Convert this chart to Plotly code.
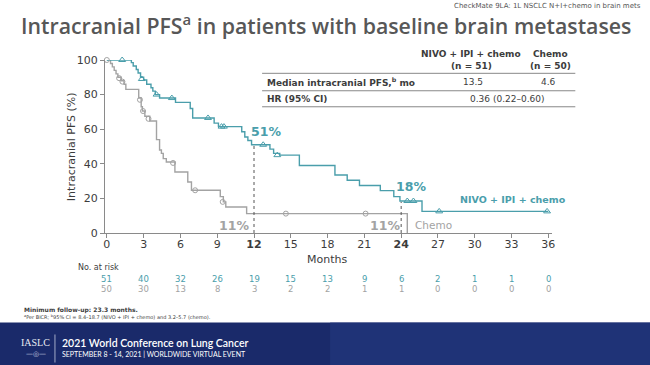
import plotly.graph_objects as go

# ---------------- data ----------------
nivo_t = [0, 2.0, 2.15, 2.4, 2.55, 2.75, 3.0, 3.25, 3.6, 3.75, 3.95, 4.3, 5.6, 6.8, 7.0,
          8.75, 9.1, 11.0, 11.25, 11.5, 11.8, 13.3, 13.6, 14.1, 15.7, 18.6, 19.6, 20.6,
          22.3, 23.4, 23.9, 25.7, 36.0]
nivo_s = [100, 98.5, 96.5, 94.5, 92.5, 90, 88.5, 86, 84, 82, 80, 78, 75.5, 72, 66.5,
          63.5, 61.5, 58.5, 55.5, 53.5, 51, 48.5, 46, 45, 39, 33.5, 30.5, 27.5,
          24.5, 21, 18.5, 12.5, 12.5]
nivo_cens_t = [1.25, 2.85, 4.05, 5.3, 8.25, 9.35, 9.55, 12.75, 13.9, 24.5, 25.0, 27.1, 35.9]
nivo_cens_s = [100, 89, 80, 78, 66.5, 61.5, 61.5, 51, 45, 18.5, 18.5, 12.5, 12.5]

chemo_t = [0, 0.3, 0.45, 0.6, 0.75, 0.9, 1.15, 1.4, 1.55, 2.6, 2.8, 2.9, 3.1, 3.5, 4.05,
           4.3, 4.45, 4.6, 4.85, 5.55, 6.6, 6.9, 9.25, 9.5, 9.7, 11.4, 24.5]
chemo_s = [100, 98, 96, 94, 92, 90, 88, 86, 83, 78, 73, 70.5, 67.5, 64.7, 54,
           48, 46, 43, 41, 35.3, 29.5, 24.7, 21, 18, 15, 11.2, 0]
chemo_cens_t = [0, 1.0, 1.27, 2.7, 2.95, 3.4, 5.4, 7.2, 9.45, 14.6, 21.1]
chemo_cens_s = [100, 89.5, 87.5, 77, 70.5, 66, 40.5, 24.7, 18, 11.2, 11.2]

milestone_months = [12, 24]
nivo_milestone = [51, 18]
chemo_milestone = [11, 11]

x_ticks = [0, 3, 6, 9, 12, 15, 18, 21, 24, 27, 30, 33, 36]
risk_nivo = [51, 40, 32, 26, 19, 15, 13, 9, 6, 2, 1, 1, 0]
risk_chemo = [50, 30, 13, 8, 3, 2, 2, 1, 1, 0, 0, 0, 0]
y_ticks = [0, 20, 40, 60, 80, 100]

# ---------------- styling ----------------
TEAL = "#4a9eab"
GREY = "#a3a3a3"
DARK = "#3c3c3c"
FONT = "DejaVu Sans"

W, H = 650, 365
PL, PR, PT, PB = 105, 551.7, 60, 232.7  # plot area in pixels


def px(x):
    return (x - PL) / (PR - PL)


def py(y):
    return (PB - y) / (PB - PT)


def pa(x, y, text, size, color=DARK, family=FONT, xanchor="center", yanchor="middle", **kw):
    d = dict(xref="paper", yref="paper", x=px(x), y=py(y), text=text, xanchor=xanchor, yanchor=yanchor,
             font=dict(color=color, size=size, family=family), showarrow=False)
    d.update(kw)
    return d


fig = go.Figure()

fig.add_trace(go.Scatter(x=chemo_t, y=chemo_s, mode="lines", line=dict(color=GREY, width=1.4, shape="hv"),
                         hoverinfo="skip", cliponaxis=False))
fig.add_trace(go.Scatter(x=nivo_t, y=nivo_s, mode="lines", line=dict(color=TEAL, width=1.4, shape="hv"),
                         hoverinfo="skip", cliponaxis=False))
fig.add_trace(go.Scatter(x=chemo_cens_t, y=chemo_cens_s, mode="markers",
                         marker=dict(symbol="circle-open", size=5, color=GREY, line=dict(width=1)),
                         hoverinfo="skip", cliponaxis=False))
fig.add_trace(go.Scatter(x=nivo_cens_t, y=nivo_cens_s, mode="markers",
                         marker=dict(symbol="triangle-up-open", size=6, color=TEAL, line=dict(width=1)),
                         hoverinfo="skip", cliponaxis=False))

# dotted milestone lines
for m, v in zip(milestone_months, nivo_milestone):
    fig.add_shape(type="line", x0=m, x1=m, y0=0, y1=v, xref="x", yref="y",
                  line=dict(color="#555555", width=1, dash="dot"))

ann = []
# milestone labels
ann.append(dict(x=milestone_months[0] + 1.0, y=nivo_milestone[0] + 7.5, text="<b>51%</b>",
                font=dict(color=TEAL, size=12.5, family=FONT), showarrow=False))
ann.append(dict(x=milestone_months[1] + 0.8, y=nivo_milestone[1] + 9, text="<b>18%</b>",
                font=dict(color=TEAL, size=12.5, family=FONT), showarrow=False))
ann.append(dict(x=milestone_months[0] - 1.6, y=chemo_milestone[0] - 6.5, text="<b>11%</b>",
                font=dict(color=GREY, size=12.5, family=FONT), showarrow=False))
ann.append(dict(x=milestone_months[1] - 1.3, y=chemo_milestone[1] - 6.5, text="<b>11%</b>",
                font=dict(color=GREY, size=12.5, family=FONT), showarrow=False))
ann.append(dict(x=25.0, y=4.5, text="Chemo", xanchor="left",
                font=dict(color=GREY, size=10.5, family=FONT), showarrow=False))
ann.append(dict(x=33.1, y=19.5, text="<b>NIVO + IPI + chemo</b>",
                font=dict(color=TEAL, size=9.5, family=FONT), showarrow=False))

# axis titles
ann.append(pa(71, 146, "Intracranial PFS (%)", 11, textangle=-90))
ann.append(pa(327, 259, "Months", 11))

# title & header
t = pa(19, 24.5, "Intracranial PFS<sup>a</sup> in patients with baseline brain metastases", 21.3,
       color="#575757", family="Open Sans", xanchor="left")
t["font"]["weight"] = 600
ann.append(t)
ann.append(pa(643, 6, "CheckMate 9LA: 1L NSCLC N+I+chemo in brain mets", 7, color="#555555", xanchor="right"))

# table
TS = 9
ann.append(pa(471, 54, "<b>NIVO + IPI + chemo</b>", TS))
ann.append(pa(471, 66, "<b>(n = 51)</b>", TS))
ann.append(pa(550, 54, "<b>Chemo</b>", TS))
ann.append(pa(550, 66, "<b>(n = 50)</b>", TS))
ann.append(pa(265, 82, "<b>Median intracranial PFS,<sup>b</sup> mo</b>", TS, xanchor="left"))
ann.append(pa(473, 82, "13.5", TS))
ann.append(pa(548, 82, "4.6", TS))
ann.append(pa(265, 99, "<b>HR (95% CI)</b>", TS, xanchor="left"))
ann.append(pa(507, 99, "0.36 (0.22\u20130.60)", TS))
for yy in [73.3, 90.7, 106.7]:
    fig.add_shape(type="line", xref="paper", yref="paper", x0=px(262), x1=px(575), y0=py(yy), y1=py(yy),
                  line=dict(color="#888888", width=1))

# at risk
ann.append(pa(76, 267, "No. at risk", 8, xanchor="left"))
for m, a, b in zip(x_ticks, risk_nivo, risk_chemo):
    ann.append(dict(x=m, xref="x", yref="paper", y=py(279), text=str(a), xanchor="center", yanchor="middle",
                    font=dict(color=TEAL, size=8.5, family=FONT), showarrow=False))
    ann.append(dict(x=m, xref="x", yref="paper", y=py(288.5), text=str(b), xanchor="center", yanchor="middle",
                    font=dict(color=GREY, size=8.5, family=FONT), showarrow=False))

# footnotes
ann.append(pa(22, 310, "<b>Minimum follow-up: 23.3 months.</b>", 6, xanchor="left"))
ann.append(pa(22, 316.5,
              "<sup>a</sup>Per BICR; <sup>b</sup>95% CI = 8.4\u201318.7 (NIVO + IPI + chemo) and 3.2\u20135.7 (chemo).",
              5, xanchor="left"))

# banner
fig.add_shape(type="rect", xref="paper", yref="paper", x0=px(-5), x1=px(660), y0=py(322), y1=py(370),
              fillcolor="#1a2a6a", line=dict(width=0), layer="below")
fig.add_shape(type="rect", xref="paper", yref="paper", x0=px(330), x1=px(660), y0=py(322), y1=py(370),
              fillcolor="#22387e", line=dict(width=0), layer="below", opacity=0.7)
fig.add_shape(type="line", xref="paper", yref="paper", x0=px(55), x1=px(55), y0=py(334), y1=py(362),
              line=dict(color="#c8cde0", width=0.8))
ann.append(pa(36, 342.5, "IASLC", 10, color="#e8eaf2", family="Liberation Serif"))
ann.append(pa(36, 353.5, "\u2014\u25ce\u2014", 7, color="#c8cde0"))
b1 = pa(60, 342.5, "2021 World Conference on Lung Cancer", 10.5, color="#ffffff", family="Lato", xanchor="left")
b1["font"]["weight"] = 600
ann.append(b1)
ann.append(pa(60, 354, "SEPTEMBER 8 - 14, 2021 | WORLDWIDE VIRTUAL EVENT", 7, color="#ffffff", family="Lato",
              xanchor="left"))

tick_text = ["<b>12</b>" if t == 12 else "<b>24</b>" if t == 24 else str(t) for t in x_ticks]

fig.update_layout(
    width=W, height=H,
    margin=dict(l=PL, r=W - PR, t=PT, b=H - PB, pad=0),
    paper_bgcolor="white", plot_bgcolor="white",
    showlegend=False,
    annotations=ann,
    font=dict(family=FONT, color=DARK),
    xaxis=dict(range=[-0.15, 36.3], tickvals=x_ticks, ticktext=tick_text, showgrid=False, zeroline=False,
               showline=True, linecolor="#8a8a8a", linewidth=1, ticks="outside", ticklen=4,
               ticklabelstandoff=-3,
               tickcolor="#8a8a8a", tickfont=dict(size=11, color=DARK, family=FONT)),
    yaxis=dict(range=[0, 100], tickvals=y_ticks, showgrid=False, zeroline=False,
               showline=True, linecolor="#8a8a8a", linewidth=1, ticks="outside", ticklen=4,
               tickcolor="#8a8a8a", tickfont=dict(size=11, color=DARK, family=FONT)),
)

fig.write_html("out.html", config={"displayModeBar": False},
               post_script="document.body.style.margin='0';")
